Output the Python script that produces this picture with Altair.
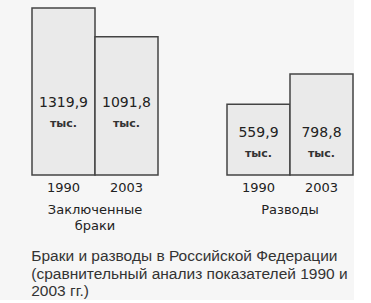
import altair as alt
import pandas as pd

groups = ["Заключенные браки", "Разводы"]
years = ["1990", "2003"]
marriages = [1319.9, 1091.8]
divorces = [559.9, 798.8]
unit_label = "тыс."
caption = [
    "Браки и разводы в Российской Федерации",
    "(сравнительный анализ показателей 1990 и",
    "2003 гг.)",
]

rows = []
for g, vals in zip(groups, [marriages, divorces]):
    for y, v in zip(years, vals):
        rows.append({"group": g, "year": y, "value": v})
df = pd.DataFrame(rows)

FONT = "DejaVu Sans"

xenc = alt.X(
    "year:N",
    title=None,
    scale=alt.Scale(paddingInner=0, paddingOuter=0),
    axis=alt.Axis(domain=False, ticks=False, labelAngle=0, labelFont=FONT,
                  labelFontSize=13, labelColor="#222", labelPadding=5),
)
yscale = alt.Scale(domain=[0, 1319.9], nice=False, zero=True)

bars = alt.Chart().mark_bar(
    fill="#eaeaea", stroke="#444", strokeWidth=1.5
).encode(
    x=xenc,
    y=alt.Y("value:Q", scale=yscale, axis=None),
)

base_text = alt.Chart().transform_joinaggregate(
    mn="min(value)", groupby=["group"]
).transform_calculate(
    ly="datum.mn * 0.45",
    lbl="replace(format(datum.value, '.1f'), '.', ',')",
    unit=f"'{unit_label}'",
)

vals = base_text.mark_text(
    font=FONT, fontSize=14, color="#222", dy=-10, baseline="middle"
).encode(
    x=xenc,
    y=alt.Y("ly:Q", scale=yscale, axis=None),
    text="lbl:N",
)

units = base_text.mark_text(
    font=FONT, fontSize=11, fontWeight="bold", color="#333", dy=11, baseline="middle"
).encode(
    x=xenc,
    y=alt.Y("ly:Q", scale=yscale, axis=None),
    text="unit:N",
)

chart = alt.layer(bars, vals, units, data=df).properties(
    width=126, height=167
).facet(
    column=alt.Column(
        "group:N",
        sort=groups,
        title=None,
        header=alt.Header(
            labelOrient="bottom",
            labelFont=FONT,
            labelFontSize=13,
            labelColor="#222",
            labelPadding=10,
            labelLineHeight=16,
            labelExpr="split(datum.value, ' ')",
        ),
    ),
    spacing=67,
).properties(
    title=alt.TitleParams(
        text=caption,
        orient="bottom",
        anchor="start",
        font="Liberation Sans",
        fontSize=15.5,
        fontWeight="normal",
        color="#333",
        lineHeight=17.5,
        offset=16,
    ),
    background="#f6f6f6",
    padding={"left": 31, "top": 7, "right": 0, "bottom": 0},
).configure_view(stroke=None)

chart.save("out.html", embed_options={"renderer": "svg", "actions": False})
